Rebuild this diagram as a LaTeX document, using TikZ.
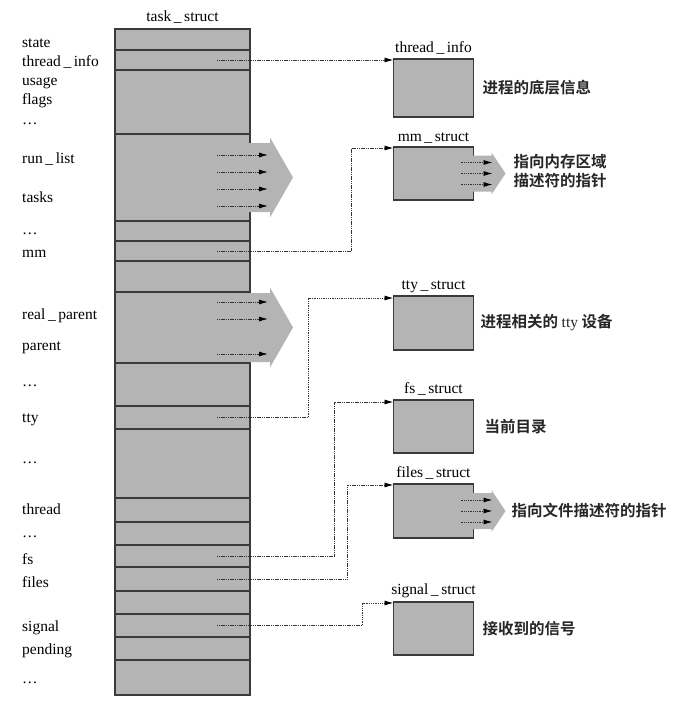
\documentclass[tikz,border=0pt]{standalone}
\usepackage{fontspec}
\setmainfont{Liberation Serif}
\newfontfamily\cjk{Noto Sans CJK SC}[BoldFont={Noto Sans CJK SC Bold}]
\usepackage{tikz}
\usetikzlibrary{arrows.meta,positioning,calc}
\definecolor{cellfill}{HTML}{B4B4B4}
\definecolor{edge}{HTML}{3A3A3A}
\definecolor{dots}{HTML}{333333}
\tikzset{
  cell/.style={draw=edge,fill=cellfill,line width=1.1pt,inner sep=0pt,outer sep=0pt,minimum width=135pt},
  sbox/.style={cell,minimum width=80pt},
  fld/.style={anchor=base west,inner sep=0pt,font=\fieldfont},
  lbl/.style={anchor=base,inner sep=0pt,font=\fieldfont},
  note/.style={anchor=west,inner sep=0pt,font=\notefont,align=left,text=black!85},
  ptr/.style={-{Latex[length=9pt,width=5pt,color=black]},draw=dots,line width=0.9pt,dash pattern=on 1.1pt off 0.7pt},
}
\newcommand{\fieldfont}{\fontsize{15.5}{18}\selectfont}
\newcommand{\notefont}{\cjk\bfseries\fontsize{15.5}{19}\selectfont}
\newcommand{\us}{\,\_\,}
% gray fan of pointers leaving a box
\newcommand{\smallfan}[1]{%
  \fill[cellfill] ($(#1.east)+(-1,-18)$) -- ++(19,0) -- ++(0,-3) -- ++(14,21) -- ++(-14,21) -- ++(0,-3) -- ++(-19,0) -- cycle;
  \foreach \d in {-11,0,11} \draw[ptr] ($(#1.east)+(-13,\d)$) -- ++(32,0);
}
\newcommand{\bigfan}[1]{%
  \fill[cellfill] ($(#1.east)+(-1.5,-34.5)$) -- ++(21.5,0) -- ++(0,-5.5) -- ++(23,40) -- ++(-23,40) -- ++(0,-5.5) -- ++(-21.5,0) -- cycle;
}

\begin{document}
\begin{tikzpicture}[x=1pt,y=-1pt]
\useasboundingbox (0,0) rectangle (688,705);

\foreach \t/\b [count=\i] in {29/50,50/70,70/134,134/221,221/241,241/261,261/292,292/363,363/406,406/429,
  429/498,498/522,522/545,545/567,567/591,591/614,614/637,637/660,660/695}
  \node[cell,minimum height={(\b-\t)*1pt}] (c\i) at (182.5,{(\t+\b)/2}) {};
\node[lbl] (title) at ([yshift=8pt]c1.north) {task\us struct};

\foreach \y/\t [count=\i] in {47/state,66/thread\us info,85/usage,104/flags,124/\ldots,163/run\us list,202/tasks,
  234/\ldots,257/mm,319/real\us parent,350/parent,386/\ldots,422/tty,463/\ldots,514/thread,537/\ldots,
  564/fs,587/files,631/signal,654/pending,683/\ldots}
  \node[fld] (f\i) at (22,\y) {\t};

\bigfan{c4}
\bigfan{c8}
\foreach \y in {155,172,189,206} \draw[ptr] (217,\y) -- (268,\y);
\foreach \y in {302,319,354} \draw[ptr] (217,\y) -- (268,\y);

\node[sbox,minimum height=58pt] (tinfo) at (433.5,88) {};
\node[sbox,minimum height=53pt] (mm) at (433.5,173.5) {};
\node[sbox,minimum height=54pt] (tty) at (433.5,323) {};
\node[sbox,minimum height=53pt] (fs) at (433.5,426.5) {};
\node[sbox,minimum height=54pt] (files) at (433.5,511) {};
\node[sbox,minimum height=53pt] (sig) at (433.5,628.5) {};

\node[lbl] (tinfo-l) at ([yshift=7pt]tinfo.north) {thread\us info};
\node[lbl] (mm-l) at ([yshift=6pt]mm.north) {mm\us struct};
\node[lbl] (tty-l) at ([yshift=7pt]tty.north) {tty\us struct};
\node[lbl] (fs-l) at ([yshift=7pt]fs.north) {fs\us struct};
\node[lbl] (files-l) at ([yshift=7pt]files.north) {files\us struct};
\node[lbl] (sig-l) at ([yshift=8pt]sig.north) {signal\us struct};

\smallfan{mm}
\smallfan{files}

\node[note,right=9pt of tinfo] (tinfo-n) {进程的底层信息};
\node[note] (mm-n) at ([xshift=40pt,yshift=2pt]mm.east) {指向内存区域\\描述符的指针};
\node[note,right=7pt of tty] (tty-n) {进程相关的 {\rmfamily\mdseries tty} 设备};
\node[note,right=11pt of fs] (fs-n) {当前目录};
\node[note] (files-n) at ([xshift=38pt]files.east) {指向文件描述符的指针};
\node[note,right=9pt of sig] (sig-n) {接收到的信号};

\draw[ptr] ([xshift=-33pt]c2.east) -- (c2.east -| tinfo.west);
\draw[ptr] ([xshift=-33pt]c6.east) -| ([xshift=-42pt,yshift=-1pt]mm.north west) -- ([yshift=-1pt]mm.north west);
\draw[ptr] ([xshift=-33pt]c10.east) -| ([xshift=-85pt,yshift=-2pt]tty.north west) -- ([yshift=-2pt]tty.north west);
\draw[ptr] ([xshift=-33pt]c14.east) -| ([xshift=-59pt,yshift=-2pt]fs.north west) -- ([yshift=-2pt]fs.north west);
\draw[ptr] ([xshift=-33pt]c15.east) -| ([xshift=-46pt,yshift=-1pt]files.north west) -- ([yshift=-1pt]files.north west);
\draw[ptr] ([xshift=-33pt]c17.east) -| ([xshift=-31pt,yshift=-1pt]sig.north west) -- ([yshift=-1pt]sig.north west);
\end{tikzpicture}
\end{document}
